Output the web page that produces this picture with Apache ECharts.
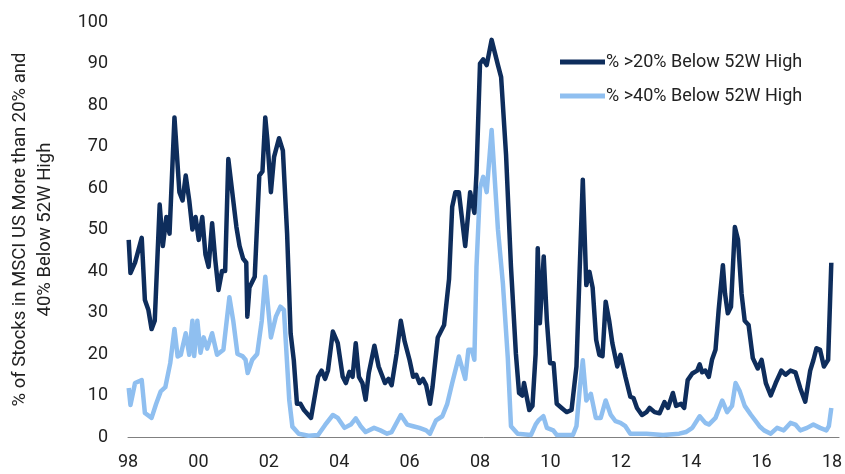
<!DOCTYPE html>
<html>
<head>
<meta charset="utf-8">
<script src="https://cdn.jsdelivr.net/npm/echarts@6/dist/echarts.min.js"></script>
<style>
html,body{margin:0;padding:0;background:#fff;}
#c{width:845px;height:474px;}
</style>
</head>
<body>
<div id="c"></div>
<script>
// decimal-year dates and values
const darkT = [1998.02,1998.07,1998.2,1998.39,1998.48,1998.58,1998.67,1998.76,1998.9,1998.99,1999.09,1999.18,1999.32,1999.46,1999.55,1999.64,1999.74,1999.83,1999.92,2000.01,2000.11,2000.2,2000.29,2000.39,2000.48,2000.57,2000.67,2000.76,2000.85,2000.99,2001.08,2001.17,2001.27,2001.36,2001.39,2001.45,2001.6,2001.73,2001.82,2001.9,2001.96,2002.06,2002.15,2002.29,2002.4,2002.52,2002.62,2002.71,2002.8,2002.9,2003.0,2003.2,2003.4,2003.5,2003.6,2003.68,2003.82,2003.96,2004.1,2004.19,2004.29,2004.38,2004.47,2004.56,2004.66,2004.75,2004.84,2005.0,2005.12,2005.21,2005.3,2005.4,2005.49,2005.63,2005.75,2005.86,2006.0,2006.1,2006.19,2006.28,2006.38,2006.47,2006.58,2006.65,2006.8,2006.89,2006.98,2007.12,2007.21,2007.3,2007.4,2007.58,2007.72,2007.84,2007.9,2008.0,2008.09,2008.19,2008.33,2008.51,2008.6,2008.74,2008.88,2009.02,2009.11,2009.2,2009.25,2009.4,2009.49,2009.58,2009.64,2009.7,2009.81,2009.9,2009.99,2010.09,2010.18,2010.32,2010.46,2010.6,2010.74,2010.83,2010.92,2011.02,2011.11,2011.2,2011.3,2011.39,2011.48,2011.57,2011.67,2011.76,2011.9,2011.99,2012.13,2012.27,2012.36,2012.46,2012.6,2012.73,2012.82,2012.96,2013.1,2013.24,2013.34,2013.48,2013.57,2013.71,2013.8,2013.9,2014.03,2014.17,2014.24,2014.31,2014.4,2014.5,2014.59,2014.69,2014.78,2014.9,2014.96,2015.04,2015.13,2015.24,2015.33,2015.43,2015.52,2015.63,2015.75,2015.89,2016.0,2016.12,2016.26,2016.4,2016.56,2016.68,2016.82,2016.96,2017.1,2017.24,2017.38,2017.47,2017.56,2017.66,2017.77,2017.89,2017.98];
const darkV = [47.5,39.5,42,48,33,30.6,26,28,56,46,53,49,77,59,57,63,57,50,53,47.5,53,44,41,51.5,42.6,35.4,40,40,67,57,50.6,46,43,42,29,36,38.6,63,64,77,71.5,59,67.5,72,69,49,25,18.5,8,8,6.5,4.6,14.5,16,14,16,25.4,22.6,14.5,13,15.7,14.5,22.6,14.5,13,9,15.4,22,17,15,13,14,12.5,20,28,23,18.5,14.5,15,13,14,12.5,8,12,24,25.5,27,38,55.5,59,59,46,59,54,63.5,90,91,89.6,95.7,89.6,86.7,68,41,20,10.6,10,13,6.5,7.5,20,45.5,27.4,43.5,28,17.8,17.8,8,7,6,6.5,17,40,62,36.6,39.8,36,23.4,19.8,19.5,32.6,28,22.6,17,19.8,14.5,9.7,9.4,7,5.3,6,7,6,5.7,8.4,7,10.6,7.5,8,7,13.7,15.3,16,17.5,15.6,16,14.5,18.6,21,30.6,41.4,34.6,29.8,31.4,50.6,47.5,34.6,28,27,19,16.5,18.6,13,10,13,16,15,16,15.6,11.7,8.5,16,18.5,21.4,21,17,18.6,42];

const lightT = [1998.02,1998.07,1998.2,1998.39,1998.48,1998.67,1998.8,1998.93,1999.06,1999.2,1999.32,1999.41,1999.5,1999.64,1999.74,1999.83,1999.88,1999.97,2000.06,2000.15,2000.25,2000.39,2000.53,2000.71,2000.88,2000.99,2001.11,2001.25,2001.34,2001.4,2001.53,2001.67,2001.8,2001.9,2002.06,2002.2,2002.33,2002.43,2002.58,2002.67,2002.85,2003.13,2003.4,2003.6,2003.82,2003.96,2004.15,2004.33,2004.47,2004.61,2004.75,2004.99,2005.17,2005.36,2005.49,2005.75,2005.93,2006.1,2006.28,2006.47,2006.58,2006.75,2006.93,2007.07,2007.21,2007.4,2007.58,2007.67,2007.77,2007.84,2007.9,2008.0,2008.09,2008.19,2008.33,2008.51,2008.65,2008.79,2008.88,2009.07,2009.45,2009.58,2009.66,2009.8,2009.9,2010.08,2010.18,2010.64,2010.74,2010.83,2010.92,2011.02,2011.15,2011.29,2011.43,2011.57,2011.71,2011.85,2011.99,2012.13,2012.27,2012.73,2013.2,2013.66,2013.85,2014.03,2014.24,2014.4,2014.5,2014.69,2014.88,2015.02,2015.16,2015.26,2015.38,2015.52,2015.7,2015.94,2016.07,2016.26,2016.44,2016.63,2016.82,2016.96,2017.1,2017.29,2017.47,2017.66,2017.84,2017.91,2017.98];
const lightV = [11.8,7.7,13,13.7,5.8,4.6,8,11,12,17.8,26,19.4,19.8,25,19.8,28,19.5,28,20.3,24,21.3,25,19.8,21,33.7,28,20,19.5,18.6,15.4,18.6,20,28,38.6,24,29,31.4,30.6,9,2.5,0.8,0.3,0.5,2.9,5.3,4.6,2.2,3,4.5,2.6,1.2,2.2,1.6,0.8,1.2,5.3,3,2.6,2.2,1.6,0.8,4,5,8,13,19.4,14,21,21,18.6,41,60,62.7,59,74,50,37,19,2.6,0.8,0.5,3,4,5,2.2,1.6,0.5,0.5,2.6,11.3,18.5,8.8,10.4,4.6,4.6,8.8,5.4,3.8,3.4,2.6,0.8,0.8,0.5,0.8,1.2,2.2,5,3.4,3,4.6,8.8,6,7.5,13,11,7.5,5.3,2.6,1.6,0.8,2.2,1.6,3.4,3,1.6,2.2,3,2.2,1.6,2.6,7];

const seriesNames = ['% >20% Below 52W High', '% >40% Below 52W High'];
const yTitle = '% of Stocks in MSCI US More than 20% and\n40% Below 52W High';

const zip = (t, v) => t.map((x, i) => [x, v[i]]);

const chart = echarts.init(document.getElementById('c'), null, {renderer: 'canvas'});
chart.setOption({
  animation: false,
  backgroundColor: '#ffffff',
  textStyle: {fontFamily: 'Roboto'},
  grid: {left: 115, right: 5, top: 22, bottom: 37},
  legend: {
    orient: 'vertical',
    left: 560,
    top: 52,
    padding: 0,
    itemWidth: 45,
    itemHeight: 5,
    itemGap: 14,
    icon: 'rect',
    textStyle: {fontSize: 18, color: '#222222', lineHeight: 20, padding: [0, 0, 0, -4]},
    data: seriesNames
  },
  xAxis: {
    type: 'value',
    min: 1998,
    max: 2018.2,
    interval: 2,
    splitLine: {show: false},
    axisTick: {show: false},
    axisLine: {show: true, lineStyle: {color: '#808080', width: 1}},
    axisLabel: {
      fontSize: 18, color: '#222222', margin: 16,
      formatter: v => (Math.abs(v - Math.round(v)) < 1e-6 && Math.round(v) % 2 === 0) ? String(Math.round(v) % 100).padStart(2, '0') : ''
    }
  },
  yAxis: {
    type: 'value',
    min: 0, max: 100, interval: 10,
    splitLine: {show: false},
    axisTick: {show: false},
    axisLine: {show: false},
    axisLabel: {fontSize: 18, color: '#222222', margin: 20},
    name: yTitle,
    nameLocation: 'middle',
    nameGap: 70,
    nameTextStyle: {fontSize: 18.5, color: '#222222', lineHeight: 25}
  },
  series: [
    {
      name: seriesNames[0], type: 'line', data: zip(darkT, darkV),
      showSymbol: false, z: 3,
      itemStyle: {color: '#0e2d5c'},
      lineStyle: {color: '#0e2d5c', width: 4.5, join: 'round'}
    },
    {
      name: seriesNames[1], type: 'line', data: zip(lightT, lightV),
      showSymbol: false, z: 2,
      itemStyle: {color: '#8fbff0'},
      lineStyle: {color: '#8fbff0', width: 4.5, join: 'round'}
    }
  ]
});
</script>
</body>
</html>
